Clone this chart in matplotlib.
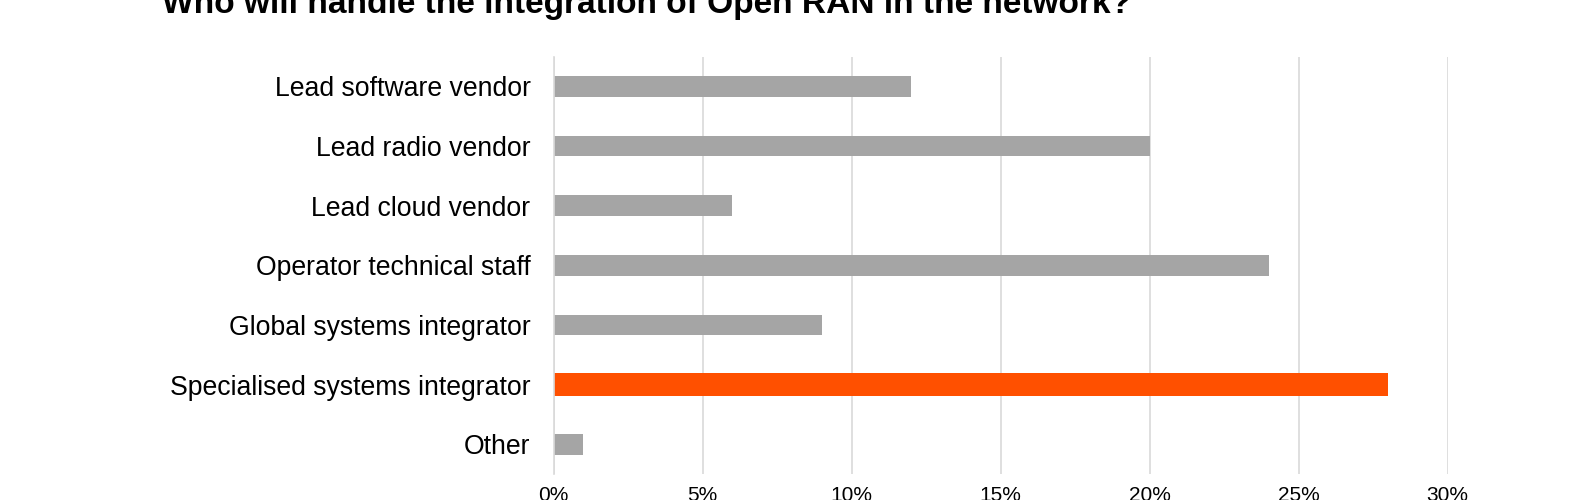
import matplotlib
matplotlib.use("Agg")
import matplotlib.pyplot as plt
from matplotlib.ticker import FuncFormatter

categories = [
    "Lead software vendor",
    "Lead radio vendor",
    "Lead cloud vendor",
    "Operator technical staff",
    "Global systems integrator",
    "Specialised systems integrator",
    "Other",
]
values = [0.12, 0.20, 0.06, 0.24, 0.09, 0.28, 0.01]
highlight = "Specialised systems integrator"
title = "Who will handle the integration of Open RAN in the network?"
xticks = [0.0, 0.05, 0.10, 0.15, 0.20, 0.25, 0.30]

GRAY = "#A5A5A5"
ORANGE = "#FF5000"
GRID = "#D9D9D9"

plt.rcParams["font.family"] = ["Liberation Sans", "DejaVu Sans"]

W, H = 1589, 500
fig = plt.figure(figsize=(W / 100, H / 100), dpi=100)
left, right = 553.5 / W, 1447.5 / W
top, bottom = 1 - 56.5 / H, 1 - 474.0 / H
ax = fig.add_axes([left, bottom, right - left, top - bottom])

pos = list(range(len(categories)))
colors = [ORANGE if c == highlight else GRAY for c in categories]
heights = [0.38 if c == highlight else 0.347 for c in categories]
ax.barh(pos, values, height=heights, color=colors, zorder=3)

ax.set_ylim(len(categories) - 0.5, -0.5)
ax.set_xlim(0, 0.30)
ax.set_yticks(pos)
ax.set_yticklabels(categories, fontsize=19.2)
ax.set_xticks(xticks)
ax.xaxis.set_major_formatter(FuncFormatter(lambda v, p: f"{round(v * 100):d}%"))
ax.tick_params(axis="y", length=0, pad=16.5)
ax.tick_params(axis="x", length=0, pad=8.6, labelsize=15)

ax.grid(axis="x", color=GRID, linewidth=1.2, zorder=0)
ax.grid(axis="y", visible=False)
for s in ["top", "right", "bottom"]:
    ax.spines[s].set_visible(False)
ax.spines["left"].set_color(GRID)
ax.spines["left"].set_linewidth(1.2)
ax.spines["left"].set_zorder(4)

fig.text(162 / W, 1 - 13 / H, title, fontsize=24.1, fontweight="bold",
         ha="left", va="baseline")

fig.savefig("out.png", dpi=100, facecolor="white")
